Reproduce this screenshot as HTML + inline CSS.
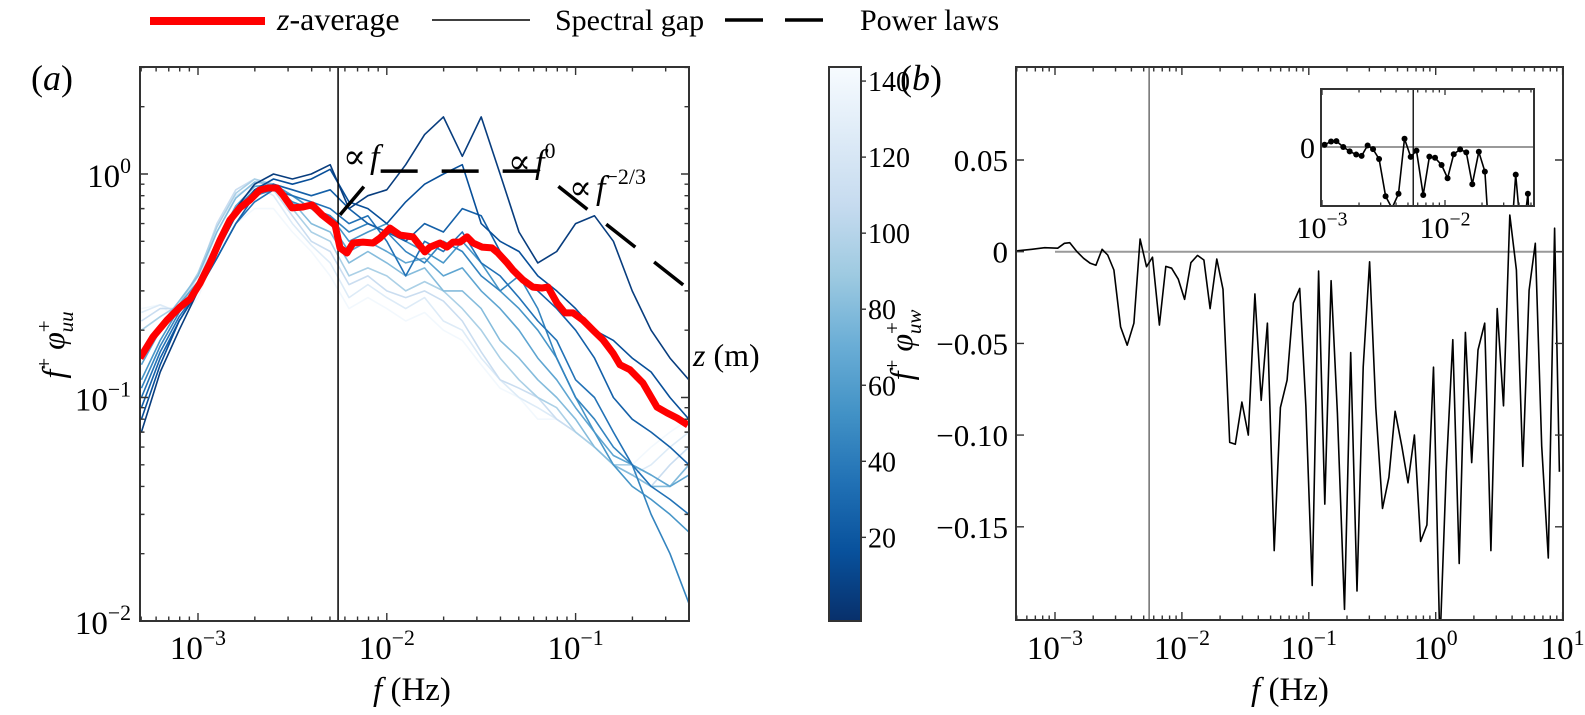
<!DOCTYPE html>
<html><head><meta charset="utf-8"><style>
html,body{margin:0;padding:0;background:#fff;}
svg{display:block;font-family:"Liberation Serif","DejaVu Serif",serif;}
</style></head><body>
<svg id="fig" width="1585" height="715" viewBox="0 0 1585 715" xmlns="http://www.w3.org/2000/svg">
<defs>
<clipPath id="clipA"><rect x="140" y="67" width="549" height="554"/></clipPath>
<clipPath id="clipB"><rect x="1016" y="67" width="547" height="553"/></clipPath>
<clipPath id="clipI"><rect x="1321" y="89" width="213" height="117"/></clipPath>
<linearGradient id="blues" x1="0" y1="1" x2="0" y2="0">
<stop offset="0" stop-color="#08306b"/><stop offset="0.125" stop-color="#08519c"/><stop offset="0.25" stop-color="#2171b5"/><stop offset="0.375" stop-color="#4292c6"/><stop offset="0.5" stop-color="#6baed6"/><stop offset="0.625" stop-color="#9ecae1"/><stop offset="0.75" stop-color="#c6dbef"/><stop offset="0.875" stop-color="#deebf7"/><stop offset="1" stop-color="#f7fbff"/>
</linearGradient>
</defs>
<g>
<line x1="150" y1="21" x2="265" y2="21" stroke="#ff0000" stroke-width="8"/>
<text x="277" y="30" font-size="32"><tspan font-style="italic">z</tspan>-average</text>
<line x1="432" y1="20" x2="530" y2="20" stroke="#000" stroke-width="1.5"/>
<text x="555" y="30" font-size="30">Spectral gap</text>
<line x1="725" y1="20" x2="833" y2="20" stroke="#000" stroke-width="3.5" stroke-dasharray="38 22"/>
<text x="860" y="30" font-size="30">Power laws</text>
</g>
<text x="31" y="90" font-size="36">(<tspan font-style="italic">a</tspan>)</text>
<text x="900" y="90" font-size="36">(<tspan font-style="italic">b</tspan>)</text>
<g id="gA"></g>
<g id="gC"></g>
<g id="gB"></g>
<g id="gI"></g>
<text x="412" y="700" font-size="33" text-anchor="middle"><tspan font-style="italic">f</tspan> (Hz)</text>
<text x="1290" y="700" font-size="33" text-anchor="middle"><tspan font-style="italic">f</tspan> (Hz)</text>
<text transform="translate(64,345) rotate(-90)" font-size="32" text-anchor="middle"><tspan font-style="italic">f</tspan><tspan font-size="21" dy="-13">+</tspan><tspan dy="13"> </tspan><tspan font-style="italic">φ</tspan><tspan font-size="21" dy="-13">+</tspan><tspan font-size="21" font-style="italic" dx="-12" dy="22">uu</tspan></text>
<text transform="translate(912,345) rotate(-90)" font-size="32" text-anchor="middle"><tspan font-style="italic">f</tspan><tspan font-size="21" dy="-13">+</tspan><tspan dy="13"> </tspan><tspan font-style="italic">φ</tspan><tspan font-size="21" dy="-13">+</tspan><tspan font-size="21" font-style="italic" dx="-12" dy="22">uw</tspan></text>
<text x="693" y="366" font-size="32"><tspan font-style="italic">z</tspan> (m)</text>
</svg>
<script>
// ---------- Panel (a) data ----------
const redLogFreq = [-3.307,-3.238,-3.164,-3.095,-3.042,-2.989,-2.936,-2.883,-2.831,-2.778,-2.725,-2.672,-2.629,-2.582,-2.550,-2.502,-2.444,-2.396,-2.343,-2.274,-2.248,-2.211,-2.179,-2.126,-2.073,-2.036,-1.983,-1.930,-1.861,-1.798,-1.771,-1.718,-1.681,-1.649,-1.612,-1.575,-1.543,-1.496,-1.443,-1.411,-1.363,-1.332,-1.279,-1.226,-1.178,-1.146,-1.099,-1.056,-1.014,-0.961,-0.908,-0.855,-0.802,-0.765,-0.712,-0.643,-0.569,-0.516,-0.463,-0.405];
const redValues = [0.150,0.187,0.222,0.254,0.276,0.325,0.400,0.507,0.622,0.705,0.765,0.848,0.866,0.866,0.805,0.705,0.712,0.727,0.656,0.591,0.467,0.443,0.491,0.496,0.491,0.517,0.573,0.533,0.523,0.448,0.471,0.491,0.471,0.496,0.496,0.523,0.491,0.471,0.467,0.443,0.400,0.372,0.336,0.312,0.309,0.312,0.265,0.239,0.239,0.222,0.200,0.181,0.158,0.140,0.133,0.116,0.0906,0.0853,0.081,0.0753];
const blueLogFreq = [-3.3,-3.2,-3.1,-3.0,-2.9,-2.8,-2.7,-2.6,-2.5,-2.4,-2.3,-2.2,-2.1,-2.0,-1.9,-1.8,-1.7,-1.6,-1.5,-1.4,-1.3,-1.2,-1.1,-1.0,-0.9,-0.8,-0.7,-0.6,-0.5,-0.4];
const blueHeights = [5,15,25,35,45,55,65,80,95,110,125,140];
const blueZ5   = [0.07,0.13,0.2,0.3,0.45,0.7,0.9,1.0,0.95,1.0,1.1,0.7,0.8,0.85,1.1,1.5,1.8,1.2,1.8,1.0,0.55,0.4,0.45,0.6,0.65,0.5,0.3,0.2,0.15,0.12];
const blueZ15  = [0.08,0.14,0.22,0.3,0.45,0.65,0.85,0.95,0.9,0.95,1.05,0.75,0.7,0.6,0.75,0.9,1.0,1.1,0.6,0.5,0.45,0.35,0.3,0.25,0.2,0.18,0.15,0.13,0.1,0.08];
const blueZ25  = [0.09,0.15,0.22,0.3,0.42,0.6,0.8,0.9,0.85,0.8,0.85,0.7,0.6,0.55,0.5,0.6,0.55,0.7,0.65,0.45,0.35,0.3,0.25,0.2,0.15,0.1,0.08,0.07,0.06,0.05];
const blueZ35  = [0.1,0.16,0.23,0.3,0.42,0.6,0.75,0.85,0.8,0.75,0.7,0.6,0.65,0.5,0.35,0.5,0.45,0.55,0.4,0.35,0.28,0.22,0.18,0.12,0.1,0.07,0.05,0.04,0.035,0.03];
const blueZ45  = [0.11,0.17,0.24,0.31,0.45,0.65,0.8,0.85,0.75,0.7,0.65,0.55,0.6,0.55,0.45,0.4,0.5,0.45,0.35,0.3,0.35,0.25,0.15,0.1,0.08,0.06,0.05,0.03,0.02,0.012];
const blueZ55  = [0.12,0.18,0.25,0.32,0.48,0.7,0.85,0.9,0.8,0.7,0.65,0.5,0.55,0.6,0.5,0.45,0.4,0.5,0.4,0.3,0.25,0.2,0.15,0.1,0.07,0.05,0.04,0.035,0.03,0.025];
const blueZ65  = [0.14,0.2,0.26,0.33,0.5,0.72,0.88,0.9,0.8,0.7,0.6,0.45,0.5,0.45,0.4,0.42,0.35,0.38,0.3,0.25,0.2,0.15,0.12,0.09,0.07,0.055,0.05,0.045,0.04,0.045];
const blueZ80  = [0.16,0.21,0.27,0.35,0.55,0.78,0.92,0.9,0.75,0.6,0.55,0.4,0.45,0.4,0.35,0.38,0.3,0.3,0.25,0.18,0.15,0.12,0.1,0.08,0.06,0.05,0.045,0.04,0.04,0.05];
const blueZ95  = [0.2,0.23,0.26,0.36,0.58,0.82,0.95,0.9,0.7,0.55,0.5,0.35,0.38,0.35,0.3,0.33,0.3,0.25,0.2,0.15,0.12,0.1,0.09,0.07,0.06,0.05,0.05,0.045,0.04,0.05];
const blueZ110 = [0.22,0.25,0.25,0.35,0.6,0.85,0.95,0.85,0.65,0.5,0.45,0.32,0.35,0.3,0.28,0.3,0.27,0.22,0.16,0.12,0.11,0.1,0.08,0.07,0.06,0.05,0.045,0.04,0.05,0.06];
const blueZ125 = [0.24,0.26,0.24,0.33,0.55,0.8,0.9,0.8,0.6,0.48,0.4,0.28,0.32,0.28,0.25,0.28,0.22,0.2,0.15,0.12,0.1,0.09,0.08,0.07,0.06,0.05,0.045,0.05,0.06,0.07];
const blueZ140 = [0.25,0.26,0.22,0.28,0.45,0.6,0.7,0.7,0.55,0.45,0.35,0.25,0.28,0.25,0.22,0.24,0.2,0.18,0.14,0.11,0.1,0.08,0.08,0.07,0.06,0.05,0.05,0.06,0.07,0.08];
const spectralGapFreq = 0.00552;
const powerLawBreaks = [0.00565, 0.00887, 0.064, 0.398];
const powerLawStartValue = 0.656;
const colorbarTicks = [20,40,60,80,100,120,140];
const colorbarRange = [-2, 143.7];
// ---------- Panel (b) data ----------
const uwLogFreq = [-3.299,-3.183,-3.081,-2.979,-2.926,-2.883,-2.827,-2.775,-2.722,-2.678,-2.629,-2.585,-2.536,-2.483,-2.431,-2.378,-2.329,-2.279,-2.232,-2.177,-2.127,-2.081,-2.028,-1.979,-1.929,-1.877,-1.827,-1.778,-1.725,-1.676,-1.623,-1.579,-1.527,-1.477,-1.425,-1.375,-1.326,-1.273,-1.224,-1.171,-1.122,-1.072,-1.023,-0.973,-0.923,-0.874,-0.824,-0.775,-0.719,-0.670,-0.620,-0.571,-0.521,-0.472,-0.419,-0.369,-0.320,-0.267,-0.218,-0.168,-0.119,-0.069,-0.017,0.033,0.083,0.135,0.185,0.234,0.284,0.333,0.386,0.435,0.485,0.534,0.584,0.636,0.686,0.736,0.785,0.835,0.887,0.937,0.975];
const uwValues = [0.0005,0.0013,0.0022,0.0019,0.0046,0.0049,0,-0.0036,-0.0063,-0.0074,0.0013,-0.0018,-0.010,-0.041,-0.051,-0.039,0.0069,-0.0082,-0.003,-0.040,-0.008,-0.009,-0.015,-0.026,-0.006,-0.002,-0.0045,-0.031,-0.004,-0.0205,-0.104,-0.105,-0.082,-0.100,-0.023,-0.081,-0.039,-0.163,-0.085,-0.070,-0.028,-0.020,-0.0845,-0.182,-0.0105,-0.1376,-0.0158,-0.088,-0.195,-0.055,-0.185,-0.063,-0.0055,-0.085,-0.140,-0.123,-0.087,-0.106,-0.126,-0.100,-0.158,-0.149,-0.063,-0.215,-0.12,-0.048,-0.170,-0.044,-0.115,-0.0536,-0.039,-0.163,-0.031,-0.084,0.020,-0.010,-0.117,-0.021,0.0046,-0.106,-0.167,0.0128,-0.12];
const uwYTicks = [0.05,0,-0.05,-0.10,-0.15];
const uwYTickLabels = ["0.05","0","\u22120.05","\u22120.10","\u22120.15"];

const NS = 'http://www.w3.org/2000/svg';
function mk(tag, attrs, parent){const e=document.createElementNS(NS,tag);for(const k in attrs)e.setAttribute(k,attrs[k]);parent.appendChild(e);return e;}
const gA=document.getElementById('gA'),gB=document.getElementById('gB'),gC=document.getElementById('gC'),gI=document.getElementById('gI');

const A={l:140,r:689,t:67,b:621};
const xA=lf=>198+(lf+3)*188.8;
const yA=v=>174-Math.log10(v)*223.5;
const B={l:1016,r:1563,t:67,b:620};
const xB=lf=>1055+(lf+3)*126.9;
const yB=v=>251.7-v*1834;
const I={l:1321,r:1534,t:89,b:206};
const xI=lf=>1322+(lf+3)*123;
const yI=v=>147-v*1200;

const bluesStops=['#f7fbff','#deebf7','#c6dbef','#9ecae1','#6baed6','#4292c6','#2171b5','#08519c','#08306b'];
function hex(h){return [1,3,5].map(i=>parseInt(h.substr(i,2),16));}
function bluesColor(z){let t=1-(z-colorbarRange[0])/(colorbarRange[1]-colorbarRange[0]);t=Math.max(0,Math.min(1,t));const s=t*8,i=Math.min(7,Math.floor(s)),f=s-i;const a=hex(bluesStops[i]),b=hex(bluesStops[i+1]);return 'rgb('+a.map((c,k)=>Math.round(c+(b[k]-c)*f)).join(',')+')';}

function supLabel(parent,x,y,exp,anchor,size){
  const t=mk('text',{x:x,y:y,'font-size':size,'text-anchor':anchor},parent);
  t.appendChild(document.createTextNode('10'));
  const s=mk('tspan',{dy:-size*0.42,'font-size':size*0.66},t);
  s.textContent=exp;
  return t;
}
function logTicks(lo,hi){const out=[];for(let n=Math.floor(lo);n<=Math.ceil(hi);n++){for(let k=1;k<=9;k++){const lv=n+Math.log10(k);if(lv>=lo-1e-9&&lv<=hi+1e-9)out.push({lv:lv,major:k===1,n:n});}}return out;}

// ---------- Panel (a) ----------
const blueSeries=[blueZ5,blueZ15,blueZ25,blueZ35,blueZ45,blueZ55,blueZ65,blueZ80,blueZ95,blueZ110,blueZ125,blueZ140];
const dataA=mk('g',{'clip-path':'url(#clipA)'},gA);


for(let s=blueSeries.length-1;s>=0;s--){
  const vals=blueSeries[s];
  const d=vals.map((v,i)=>(i?'L':'M')+xA(blueLogFreq[i]).toFixed(1)+','+yA(v).toFixed(1)).join('');
  const p=mk('path',{d:d,fill:'none',stroke:bluesColor(blueHeights[s]),'stroke-width':1.6,'stroke-linejoin':'round'},dataA);
  
  
}
const gapA=mk('line',{x1:xA(Math.log10(spectralGapFreq)),x2:xA(Math.log10(spectralGapFreq)),y1:A.t,y2:A.b,stroke:'#000','stroke-width':1.5},dataA);


const redD=redValues.map((v,i)=>(i?'L':'M')+xA(redLogFreq[i]).toFixed(1)+','+yA(v).toFixed(1)).join('');
const red=mk('path',{d:redD,fill:'none',stroke:'#ff0000','stroke-width':7,'stroke-linejoin':'round'},dataA);


const lb=powerLawBreaks.map(Math.log10);
const lv0=Math.log10(powerLawStartValue);
const lv1=lv0+(lb[1]-lb[0]);
const lv3=lv1-(2/3)*(lb[3]-lb[2]);
const plD='M'+xA(lb[0])+','+yA(Math.pow(10,lv0))+'L'+xA(lb[1])+','+yA(Math.pow(10,lv1))+'L'+xA(lb[2])+','+yA(Math.pow(10,lv1))+'L'+xA(lb[3])+','+yA(Math.pow(10,lv3));
const pl=mk('path',{d:plD,fill:'none',stroke:'#000','stroke-width':3.5,'stroke-dasharray':'37 24'},dataA);


const pl1=mk('text',{x:343,y:168,'font-size':34},gA);


pl1.innerHTML='∝<tspan font-style="italic" dx="4">f</tspan>';
const pl2=mk('text',{x:508,y:173,'font-size':34},gA);


pl2.innerHTML='∝<tspan font-style="italic" dx="4">f</tspan><tspan font-size="22" dy="-15">0</tspan>';
const pl3=mk('text',{x:569,y:199,'font-size':34},gA);


pl3.innerHTML='∝<tspan font-style="italic" dx="4">f</tspan><tspan font-size="22" dy="-15">−2/3</tspan>';
const frA=mk('rect',{x:A.l,y:A.t,width:A.r-A.l,height:A.b-A.t,fill:'none',stroke:'#333','stroke-width':2},gA);


logTicks(-3.307,-0.4).forEach(t=>{const x=xA(t.lv),L=t.major?8:4.5;
  const tk=mk('path',{d:'M'+x+','+A.b+'v'+(-L)+'M'+x+','+A.t+'v'+L,stroke:'#333','stroke-width':1.4},gA);
  
  
  if(t.major){const lab=supLabel(gA,x,659,'\u2212'+(-t.n),'middle',33);
    
    }
});
logTicks(-2,0.479).forEach(t=>{const y=yA(Math.pow(10,t.lv)),L=t.major?8:4.5;
  const tk=mk('path',{d:'M'+A.l+','+y+'h'+L+'M'+A.r+','+y+'h'+(-L),stroke:'#333','stroke-width':1.4},gA);
  
  
  if(t.major){const lab=supLabel(gA,131,y+13,t.n<0?'\u2212'+(-t.n):String(t.n),'end',33);
    
    }
});

// ---------- Colorbar ----------
const cb=mk('rect',{x:829,y:67,width:32,height:554,fill:'url(#blues)',stroke:'#333','stroke-width':2},gC);


const yC=z=>621-(z-colorbarRange[0])/(colorbarRange[1]-colorbarRange[0])*554;
colorbarTicks.forEach(z=>{
  const tk=mk('line',{x1:861,x2:866,y1:yC(z),y2:yC(z),stroke:'#333','stroke-width':1.4},gC);
  
  
  const lab=mk('text',{x:868,y:yC(z)+10,'font-size':28},gC);
  
  
  lab.textContent=String(z);
});

// ---------- Panel (b) ----------
const dataB=mk('g',{'clip-path':'url(#clipB)'},gB);


const gapB=mk('line',{x1:xB(Math.log10(spectralGapFreq)),x2:xB(Math.log10(spectralGapFreq)),y1:B.t,y2:B.b,stroke:'#777','stroke-width':1.6},dataB);


const zeroB=mk('line',{x1:xB(-3),x2:B.r,y1:yB(0),y2:yB(0),stroke:'#999','stroke-width':2},dataB);


const uwD=uwValues.map((v,i)=>(i?'L':'M')+xB(uwLogFreq[i]).toFixed(1)+','+yB(v).toFixed(1)).join('');
const uwL=mk('path',{d:uwD,fill:'none',stroke:'#000','stroke-width':1.6,'stroke-linejoin':'round'},dataB);


const frB=mk('rect',{x:B.l,y:B.t,width:B.r-B.l,height:B.b-B.t,fill:'none',stroke:'#333','stroke-width':2},gB);


logTicks(-3.31,1).forEach(t=>{const x=xB(t.lv),L=t.major?8:4.5;
  const tk=mk('path',{d:'M'+x+','+B.b+'v'+(-L)+'M'+x+','+B.t+'v'+L,stroke:'#333','stroke-width':1.4},gB);
  
  
  if(t.major){const lab=supLabel(gB,x,659,t.n<0?'\u2212'+(-t.n):String(t.n),'middle',33);
    
    }
});
uwYTicks.forEach((v,i)=>{const y=yB(v);
  const tk=mk('path',{d:'M'+B.l+','+y+'h8M'+B.r+','+y+'h-8',stroke:'#333','stroke-width':1.4},gB);
  
  
  const lab=mk('text',{x:1008,y:y+11,'font-size':31,'text-anchor':'end'},gB);
  
  
  lab.textContent=uwYTickLabels[i];
});

// ---------- Inset ----------
const bgI=mk('rect',{x:I.l,y:I.t,width:I.r-I.l,height:I.b-I.t,fill:'#fff'},gI);


const dataI=mk('g',{'clip-path':'url(#clipI)'},gI);


const zI=mk('line',{x1:I.l,x2:I.r,y1:yI(0),y2:yI(0),stroke:'#999','stroke-width':2},dataI);


const gI2=mk('line',{x1:xI(Math.log10(spectralGapFreq)),x2:xI(Math.log10(spectralGapFreq)),y1:I.t,y2:I.b,stroke:'#222','stroke-width':1.5},dataI);


const iD=uwValues.map((v,i)=>(i?'L':'M')+xI(uwLogFreq[i]).toFixed(1)+','+yI(v).toFixed(1)).join('');
const iL=mk('path',{d:iD,fill:'none',stroke:'#000','stroke-width':1.6},dataI);


uwValues.forEach((v,i)=>{const x=xI(uwLogFreq[i]);if(x<I.l-3||x>I.r+3)return;
  const c=mk('circle',{cx:x,cy:yI(v),r:3,fill:'#000'},dataI);
  
  
});
const frI=mk('rect',{x:I.l,y:I.t,width:I.r-I.l,height:I.b-I.t,fill:'none',stroke:'#333','stroke-width':2},gI);


logTicks(-3,-1.28).forEach(t=>{const x=xI(t.lv),L=t.major?6:3.5;
  const tk=mk('path',{d:'M'+x+','+I.b+'v'+(-L)+'M'+x+','+I.t+'v'+L,stroke:'#333','stroke-width':1.3},gI);
  
  
  if(t.major){const lab=supLabel(gI,x,238,'\u2212'+(-t.n),'middle',30);
    
    }
});
const iy=mk('text',{x:1315,y:158,'font-size':30,'text-anchor':'end'},gI);


iy.textContent='0';
</script>
</body></html>
